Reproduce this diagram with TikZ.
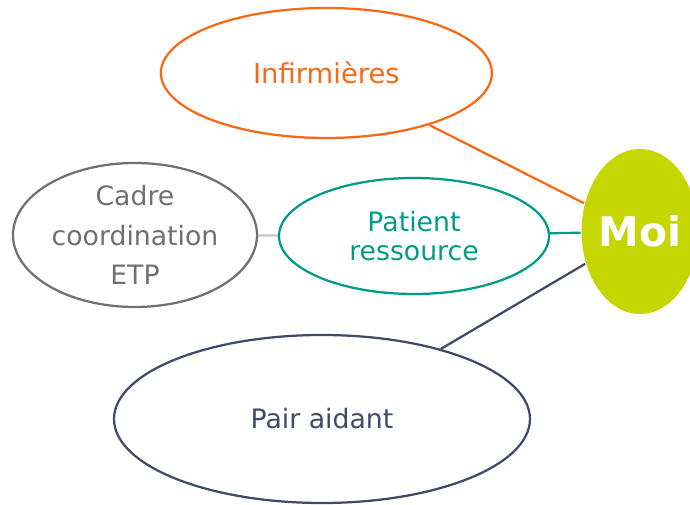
\documentclass[tikz,border=0pt]{standalone}
\usepackage{fontspec}
\setmainfont{DejaVu Sans}
\usepackage{tikz}
\usetikzlibrary{shapes.geometric}

\definecolor{orangeinf}{RGB}{250,104,20}
\definecolor{tealpat}{RGB}{0,155,135}
\definecolor{greycad}{RGB}{112,112,112}
\definecolor{navypair}{RGB}{62,74,104}
\definecolor{limemoi}{RGB}{197,214,0}
\definecolor{lightline}{RGB}{200,200,200}

\begin{document}
\begin{tikzpicture}[line width=1.6pt,main node/.style={ellipse,draw,inner sep=0pt,align=center,font=\fontsize{19}{20.5}\selectfont}]
        		\useasboundingbox (0,0) rectangle (17.25,-12.625);
        		%nodes
        			  \node[main node,draw=orangeinf,text=orangeinf,minimum width=8.275cm,minimum height=3.25cm,font=\fontsize{19.5}{21}\selectfont] (inf) at (8.16,-1.825) {Infirmières};
        			  \node[main node,draw=greycad,text=greycad,minimum width=6.1cm,minimum height=3.6cm,font=\fontsize{19}{28}\selectfont] (cadre) at (3.375,-5.875) {Cadre\\coordination\\ETP};
        			  \node[main node,draw=tealpat,text=tealpat,minimum width=6.75cm,minimum height=2.9cm] (pat) at (10.35,-5.9) {Patient\\ressource};
        			  \node[main node,draw=navypair,text=navypair,minimum width=10.4cm,minimum height=4.2cm] (pair) at (8.05,-10.475) {Pair aidant};
        			  \node[main node,draw=none,fill=limemoi,text=white,minimum width=2.85cm,minimum height=4.125cm,font=\fontsize{29}{32}\bfseries] (moi) at (16,-5.7875) {Moi};
        		%Edges
        			  \path (inf) edge [-,draw=orangeinf]  (moi);
        			  \path (pat) edge [-,draw=tealpat]  (moi);
        			  \path (cadre) edge [-,draw=lightline]  (pat);
        			  \path (pair) edge [-,draw=navypair]  (moi);
        \end{tikzpicture}
\end{document}
